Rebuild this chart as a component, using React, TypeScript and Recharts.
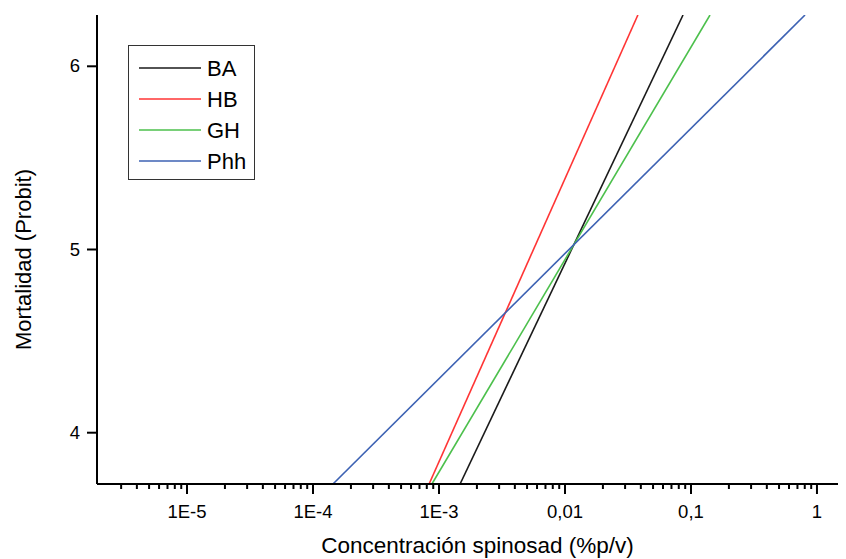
import React from 'react';
import { LineChart, Line, XAxis, YAxis, Legend } from 'recharts';

// Concentration (% p/v) at which each probit regression line enters / leaves the plot
const seriesNames = ['BA', 'HB', 'GH', 'Phh'];
const seriesColors = ['#1a1a1a', '#ff3535', '#4cc04c', '#3d62b3'];
const baConc = [0.00147, 0.0865];
const hbConc = [0.000834, 0.0379];
const ghConc = [0.000879, 0.1416];
const phhConc = [0.000144, 0.804];
const probitEnds = [3.72, 6.28];

const majorTicks = [1e-5, 1e-4, 1e-3, 0.01, 0.1, 1];
const majorLabels = ['1E-5', '1E-4', '1E-3', '0,01', '0,1', '1'];
const minorMultipliers = [2, 3, 4, 5, 6, 7, 8, 9];
const minorDecades = [1e-6, 1e-5, 1e-4, 1e-3, 0.01, 0.1];
const yTicks = [4, 5, 6];

const X_MIN = 1.93e-6;
const X_MAX = 1.70;
const Y_MIN = 3.72;
const Y_MAX = 6.28;

const minorTicks: number[] = [];
minorDecades.forEach((d) =>
  minorMultipliers.forEach((m) => {
    const v = d * m;
    if (v > 2.5e-6 && v < X_MAX) minorTicks.push(v);
  })
);
const allXTicks = [...majorTicks, ...minorTicks].sort((a, b) => a - b);

const mk = (conc: number[]) => conc.map((c, i) => ({ x: c, y: probitEnds[i] }));
const seriesData = [mk(baConc), mk(hbConc), mk(ghConc), mk(phhConc)];

const FONT = '"Liberation Sans", Arial, sans-serif';

const isMajor = (v: number) => majorTicks.some((m) => Math.abs(m - v) / m < 1e-6);

const XTick = (props: any) => {
  const { x, y, payload } = props;
  const v = payload.value;
  const major = isMajor(v);
  const idx = majorTicks.findIndex((m) => Math.abs(m - v) / m < 1e-6);
  return (
    <g>
      <line x1={x} x2={x} y1={y} y2={y + (major ? 10 : 5)} stroke="#000" strokeWidth={2} />
      {major && (
        <text x={x} y={y + 34} textAnchor="middle" fontSize={18.5} fontFamily={FONT} fill="#000">
          {majorLabels[idx]}
        </text>
      )}
    </g>
  );
};

const YTick = (props: any) => {
  const { x, y, payload } = props;
  return (
    <g>
      <line x1={x - 10} x2={x} y1={y} y2={y} stroke="#000" strokeWidth={2} />
      <text x={x - 17} y={y} dy={6} textAnchor="end" fontSize={18.5} fontFamily={FONT} fill="#000">
        {payload.value}
      </text>
    </g>
  );
};

const XTitle = (props: any) => {
  const { viewBox } = props;
  const cx = viewBox.x + viewBox.width / 2 + 6;
  return (
    <text x={cx} y={viewBox.y + 69} textAnchor="middle" fontSize={22.5} fontFamily={FONT} fill="#000">
      Concentración spinosad (%p/v)
    </text>
  );
};

const YTitle = (props: any) => {
  const { viewBox } = props;
  const cy = viewBox.y + viewBox.height / 2 + 10;
  const cx = 15;
  return (
    <text
      x={cx}
      y={cy}
      transform={`rotate(-90 ${cx} ${cy})`}
      textAnchor="middle"
      dominantBaseline="central"
      fontSize={22}
      fontFamily={FONT}
      fill="#000"
    >
      Mortalidad (Probit)
    </text>
  );
};

const LegendBox = () => (
  <div
    style={{
      width: 125,
      height: 133,
      border: '1.5px solid #333',
      background: '#fff',
      boxSizing: 'content-box',
    }}
  >
    <svg width={125} height={133}>
      {seriesNames.map((n, i) => {
        const cy = 22 + i * 31;
        return (
          <g key={n}>
            <line x1={10} x2={72} y1={cy} y2={cy} stroke={seriesColors[i]} strokeWidth={1.6} />
            <text x={78} y={cy} dy={8} fontSize={22} fontFamily={FONT} fill="#000">
              {n}
            </text>
          </g>
        );
      })}
    </svg>
  </div>
);

export default function App() {
  return (
    <div style={{ width: 838, height: 551, position: 'relative', background: '#fff' }}>
      <LineChart width={838} height={551} margin={{ top: 7, right: 0, bottom: 0, left: 0 }}>
        <XAxis
          dataKey="x"
          type="number"
          scale="log"
          domain={[X_MIN, X_MAX]}
          allowDataOverflow
          ticks={allXTicks}
          interval={0}
          tickSize={0}
          tickMargin={0}
          tickLine={false}
          tick={<XTick />}
          height={75}
          axisLine={{ stroke: '#000', strokeWidth: 2 }}
          label={<XTitle />}
        />
        <XAxis
          xAxisId="top"
          dataKey="x"
          type="number"
          scale="log"
          orientation="top"
          domain={[X_MIN, X_MAX]}
          allowDataOverflow
          tick={false}
          tickLine={false}
          height={0}
          axisLine={{ stroke: '#000', strokeWidth: 2 }}
        />
        <YAxis
          type="number"
          domain={[Y_MIN, Y_MAX]}
          allowDataOverflow
          ticks={yTicks}
          interval={0}
          width={89}
          tickSize={0}
          tickMargin={0}
          tickLine={false}
          tick={<YTick />}
          axisLine={{ stroke: '#000', strokeWidth: 2 }}
          label={<YTitle />}
        />
        <Legend
          layout="horizontal"
          verticalAlign="middle"
          align="center"
          content={() => <LegendBox />}
          wrapperStyle={{ position: 'absolute', left: 120, top: 37, width: 'auto', height: 'auto' }}
        />
        {seriesData.map((d, i) => (
          <Line
            key={seriesNames[i]}
            data={d}
            dataKey="y"
            name={seriesNames[i]}
            stroke={seriesColors[i]}
            strokeWidth={1.6}
            dot={false}
            activeDot={false}
            isAnimationActive={false}
          />
        ))}
      </LineChart>
    </div>
  );
}
